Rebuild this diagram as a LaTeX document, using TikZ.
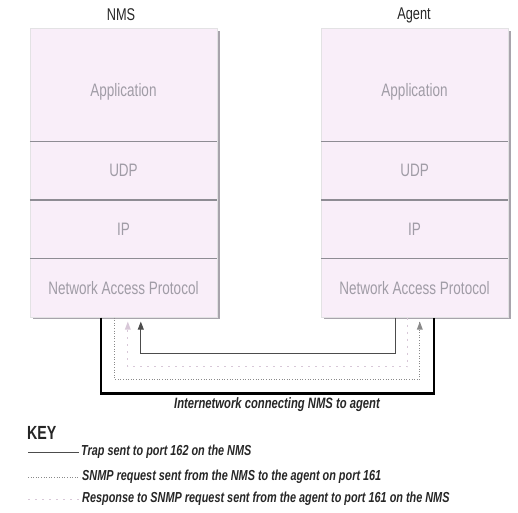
\documentclass[tikz,border=0pt]{standalone}
\usepackage{fontspec}
\setmainfont{Liberation Sans}[FakeStretch=0.75]
\usetikzlibrary{positioning,calc,arrows.meta}
\definecolor{stackfill}{HTML}{F9EEF9}
\definecolor{labelgray}{HTML}{A09CA6}
\definecolor{rulegray}{HTML}{8E8C94}
\definecolor{shadowgray}{HTML}{A8A4AC}
\definecolor{reqgray}{HTML}{8A8A8A}
\definecolor{resppink}{HTML}{D8C8D8}
\begin{document}
\begin{tikzpicture}[x=1pt,y=-1pt,
  layer/.style={rectangle,fill=stackfill,draw=rulegray!25,minimum width=187pt,
    inner sep=0pt,text=labelgray,font=\fontsize{18}{18}\selectfont},
  toplayer/.style={layer,anchor=north,minimum height=113pt,text height=28pt,text depth=4pt},
  sepline/.style={rulegray,line width=1.4pt},
  head/.style={font=\fontsize{17}{17}\selectfont,text=black!85},
  legtext/.style={anchor=west,inner sep=2pt,text=black!85,
    font=\fontsize{14.5}{15}\selectfont\bfseries\itshape},
  trap/.style={black!70,line width=0.8pt},
  request/.style={reqgray,line width=0.9pt,dash pattern=on 1pt off 1.6pt},
  response/.style={resppink,line width=0.9pt,dash pattern=on 2pt off 5pt},
  tip/.style={-{Triangle[length=8pt,width=6pt]}}]
\useasboundingbox (0,0) rectangle (518,512);
% stacks
\fill[shadowgray] (33,31) rectangle (220,319);
\fill[shadowgray] (324,31) rectangle (511,319);
\node[toplayer] (nmsapp) at (123.5,28) {Application};
\node[layer,minimum height=58pt,below=0pt of nmsapp] (nmsudp) {UDP};
\node[layer,minimum height=58pt,below=0pt of nmsudp] (nmsip) {IP};
\node[layer,minimum height=59pt,below=0pt of nmsip] (nmsnap) {Network Access Protocol};
\node[toplayer] (agentapp) at (414.5,28) {Application};
\node[layer,minimum height=58pt,below=0pt of agentapp] (agentudp) {UDP};
\node[layer,minimum height=58pt,below=0pt of agentudp] (agentip) {IP};
\node[layer,minimum height=59pt,below=0pt of agentip] (agentnap) {Network Access Protocol};
\foreach \s in {nms,agent}
  \foreach \l in {udp,ip,nap}
    \draw[sepline] (\s\l.north west) -- (\s\l.north east);
\node[head] (nms) at (121,15) {NMS};
\node[head] (agent) at (414,15) {Agent};
% internetwork
\coordinate (netN) at ($(nmsnap.south west)+(71,0)$);
\coordinate (netA) at ($(agentnap.south west)+(113,0)$);
\draw[black,line width=2.6pt] (netN) -- ++(0,76) -| (netA);
\node[text=black!85,font=\fontsize{15}{15}\selectfont\bfseries\itshape] (netlabel) at (277,405)
  {Internetwork connecting NMS to agent};
% messages
\coordinate (reqN) at ($(nmsnap.south west)+(85,0)$);
\coordinate (reqA) at ($(agentnap.south west)+(99,4)$);
\draw[request] (reqN) -- ++(0,62) -| (reqA);
\fill[reqgray] ($(reqA)+(-3,8)$) -- (reqA) -- ($(reqA)+(3,8)$) -- cycle;
\coordinate (respA) at ($(agentnap.south west)+(87,0)$);
\coordinate (respN) at ($(nmsnap.south west)+(98,4)$);
\draw[response] (respA) -- ++(0,49) -| (respN);
\fill[resppink] ($(respN)+(-3,8)$) -- (respN) -- ($(respN)+(3,8)$) -- cycle;
\coordinate (trapA) at ($(agentnap.south west)+(75,0)$);
\coordinate (trapN) at ($(nmsnap.south west)+(111,4)$);
\draw[trap,tip] (trapA) -- ++(0,36) -| (trapN);
% key
\node[anchor=west,inner sep=0pt,text=black!85,font=\fontsize{19}{19}\selectfont\bfseries] (key) at (27,433) {KEY};
\node[legtext] (leg1) at (79,452) {Trap sent to port 162 on the NMS};
\node[legtext] (leg2) at (80,477) {SNMP request sent from the NMS to the agent on port 161};
\node[legtext] (leg3) at (80,499) {Response to SNMP request sent from the agent to port 161 on the NMS};
\coordinate (k1) at (28,452);
\coordinate (k2) at (28,477);
\coordinate (k3) at (28,499);
\draw[trap] (k1) -- (leg1.west);
\draw[request] (k2) -- (leg2.west);
\draw[response] (k3) -- (leg3.west);
\end{tikzpicture}
\end{document}
